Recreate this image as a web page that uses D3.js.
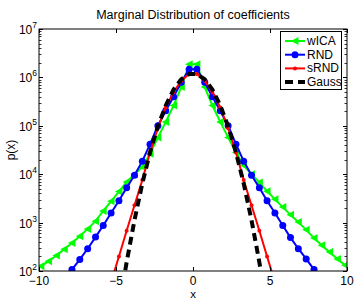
<!DOCTYPE html>
<html><head><meta charset="utf-8">
<script src="https://cdn.jsdelivr.net/npm/d3@7"></script>
<style>body{margin:0;background:#fff}svg{display:block}text{font-family:"Liberation Sans",Arial,sans-serif;fill:#000}</style>
</head><body><svg id="c" width="355" height="299"></svg>
<script>
// bin centres (x)
const xs = [-9.88,-9.38,-8.87,-8.36,-7.86,-7.35,-6.84,-6.33,-5.83,-5.32,-4.81,-4.31,-3.80,-3.29,-2.79,-2.28,-1.77,-1.26,-0.76,-0.25,
             0.25, 0.76, 1.26, 1.77, 2.28, 2.79, 3.29, 3.80, 4.31, 4.81, 5.32, 5.83, 6.33, 6.84, 7.35, 7.86, 8.36, 8.87, 9.38, 9.88];
// log10 p(x) (null = not drawn)
const wicaLog = [2.10,2.20,2.32,2.45,2.58,2.72,2.87,3.03,3.24,3.44,3.64,3.84,4.00,4.15,4.42,4.76,5.08,5.42,5.80,6.27,
                 6.27,5.80,5.42,5.08,4.76,4.45,4.18,4.00,3.83,3.65,3.48,3.32,3.16,3.01,2.85,2.68,2.53,2.39,2.25,2.12];
const rndLog  = [null,null,null,1.80,2.03,2.24,2.46,2.70,2.94,3.20,3.45,3.72,3.98,4.27,4.62,5.00,5.31,5.60,5.90,6.17,
                 6.17,5.90,5.60,5.31,5.00,4.62,4.27,3.98,3.72,3.45,3.20,2.94,2.69,2.46,2.25,2.03,1.80,null,null,null];
const srndLog = [null,null,null,null,null,null,null,null,null,1.77,2.30,2.83,3.36,3.88,4.45,4.95,5.38,5.70,5.93,6.07,
                 6.07,5.93,5.70,5.38,4.95,4.45,3.88,3.36,2.83,2.30,1.77,null,null,null,null,null,null,null,null,null];
const gaussLog= [null,null,null,null,null,null,null,null,null,null,1.22,2.18,3.05,3.81,4.45,4.99,5.42,5.75,5.96,6.07,
                 6.07,5.96,5.75,5.42,4.99,4.45,3.81,3.05,2.18,1.22,null,null,null,null,null,null,null,null,null,null];
const seriesNames = ["wICA","RND","sRND","Gauss"];
const xTicks = [-10,-5,0,5,10];
const yTickExps = [2,3,4,5,6,7];
const title = "Marginal Distribution of coefficients";

const svg = d3.select("#c");
const L=39, R=347, T=29, B=271;
const x = d3.scaleLinear().domain([-10,10]).range([L,R]);
const y = d3.scaleLog().domain([1e2,1e7]).range([B,T]);

svg.append("defs").append("clipPath").attr("id","clip")
  .append("rect").attr("x",L).attr("y",T).attr("width",R-L).attr("height",B-T);

const plot = svg.append("g").attr("clip-path","url(#clip)");
function pts(arr){ return xs.map((v,i)=>({x:v, v:arr[i]})).filter(d=>d.v!==null); }
const line = d3.line().x(d=>x(d.x)).y(d=>y(Math.pow(10,d.v)));

const styles = [
  {arr:wicaLog, color:"#00ff00", w:2, marker:"tri"},
  {arr:rndLog, color:"#0000ff", w:2, marker:"circ"},
  {arr:srndLog, color:"#ff0000", w:2, marker:"dot"},
  {arr:gaussLog, color:"#000", w:4, marker:null, dash:"8,5"}
];
function drawMarker(g, type, cx, cy, color){
  if(type==="tri"){
    g.append("path").attr("d",`M${cx-4},${cy}L${cx+3.5},${cy-4}L${cx+3.5},${cy+4}Z`).attr("fill",color);
  } else if(type==="circ"){
    g.append("circle").attr("cx",cx).attr("cy",cy).attr("r",3.5).attr("fill",color);
  } else if(type==="dot"){
    g.append("circle").attr("cx",cx).attr("cy",cy).attr("r",2).attr("fill",color);
  }
}
styles.forEach(s=>{
  const d = pts(s.arr);
  plot.append("path").datum(d).attr("d",line).attr("fill","none")
    .attr("stroke",s.color).attr("stroke-width",s.w).attr("stroke-dasharray",s.dash||null);
  if(s.marker){
    const g = plot.append("g");
    d.forEach(p=>drawMarker(g,s.marker,x(p.x),y(Math.pow(10,p.v)),s.color));
  }
});

// frame
svg.append("rect").attr("x",L).attr("y",T).attr("width",R-L).attr("height",B-T)
  .attr("fill","none").attr("stroke","#000").attr("stroke-width",1);

// x ticks
const axg = svg.append("g");
xTicks.forEach(t=>{
  const px = Math.round(x(t))+0.5;
  axg.append("line").attr("x1",px).attr("x2",px).attr("y1",B).attr("y2",B-4).attr("stroke","#000");
  axg.append("line").attr("x1",px).attr("x2",px).attr("y1",T).attr("y2",T+4).attr("stroke","#000");
  axg.append("text").attr("x",x(t)).attr("y",B+14).attr("text-anchor","middle")
    .attr("font-size",12).text(t<0?"\u2212"+Math.abs(t):String(t));
});
// y ticks
yTickExps.forEach(e=>{
  const py = Math.round(y(Math.pow(10,e)))+0.5;
  axg.append("line").attr("x1",L).attr("x2",L+4).attr("y1",py).attr("y2",py).attr("stroke","#000");
  axg.append("line").attr("x1",R).attr("x2",R-4).attr("y1",py).attr("y2",py).attr("stroke","#000");
  const tx = axg.append("text").attr("x",L-2).attr("y",py+4).attr("text-anchor","end").attr("font-size",12);
  tx.append("tspan").text("10");
  tx.append("tspan").attr("dy",-5.5).attr("font-size",8.5).text(String(e));
  if(e<7){
    for(let m=2;m<=9;m++){
      const my = Math.round(y(m*Math.pow(10,e)))+0.5;
      axg.append("line").attr("x1",L).attr("x2",L+2.5).attr("y1",my).attr("y2",my).attr("stroke","#000").attr("stroke-width",0.8);
      axg.append("line").attr("x1",R).attr("x2",R-2.5).attr("y1",my).attr("y2",my).attr("stroke","#000").attr("stroke-width",0.8);
    }
  }
});

// labels
svg.append("text").attr("x",(L+R)/2).attr("y",19).attr("text-anchor","middle").attr("font-size",12.5).text(title);
svg.append("text").attr("x",(L+R)/2).attr("y",298).attr("text-anchor","middle").attr("font-size",11.5).text("x");
svg.append("text").attr("transform",`translate(15,${(T+B)/2}) rotate(-90)`).attr("text-anchor","middle").attr("font-size",12).text("p(x)");

// legend
const lg = svg.append("g");
lg.append("rect").attr("x",280.5).attr("y",31.5).attr("width",61).attr("height",58)
  .attr("fill","#fff").attr("stroke","#000");
seriesNames.forEach((n,i)=>{
  const s = styles[i];
  const ly = 41 + i*13.7;
  lg.append("line").attr("x1",285).attr("x2",305).attr("y1",ly).attr("y2",ly)
    .attr("stroke",s.color).attr("stroke-width",s.w).attr("stroke-dasharray",s.dash||null);
  if(s.marker) drawMarker(lg,s.marker,295,ly,s.color);
  lg.append("text").attr("x",307).attr("y",ly+4).attr("font-size",12).text(n);
});
</script></body></html>
